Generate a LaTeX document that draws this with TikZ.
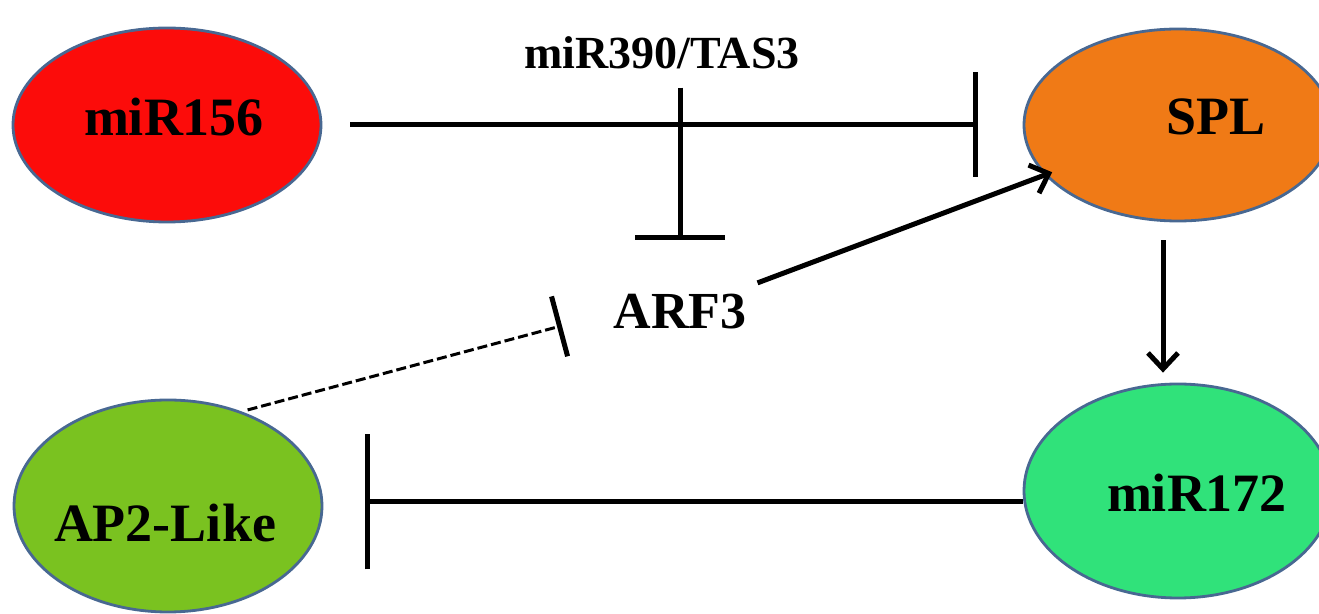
\documentclass[tikz,border=0pt]{standalone}
\usepackage{fontspec}
\setmainfont{Liberation Serif}
\usetikzlibrary{arrows.meta,shapes.geometric}
\definecolor{SixRed}{RGB}{252,12,10}
\definecolor{SplOrange}{RGB}{240,122,22}
\definecolor{LeafGreen}{RGB}{122,194,32}
\definecolor{MintGreen}{RGB}{48,226,122}
\definecolor{RimBlue}{RGB}{72,104,146}

\begin{document}
\begin{tikzpicture}[x=.5pt,y=-.5pt,
  blob/.style={ellipse,draw=RimBlue,line width=1.4pt,fill=#1,minimum width=154pt,minimum height=97pt,inner sep=0pt},
  lbl/.style={font=\fontsize{27}{30}\selectfont\bfseries,inner sep=0pt},
  inhib/.style={line width=2.5pt,-{Bar[width=#1,line width=2.5pt]}},
  act/.style={line width=2.5pt,-{Straight Barb[length=8pt,width=15pt,line width=2.5pt]}}]
\clip (0,0) rectangle (1319,614);
% the four ellipses
\node[blob=SixRed] (miR156) at (167,125) {};
\node[blob=SplOrange,minimum height=96pt] (SPL) at (1178,125) {};
\node[blob=MintGreen,minimum height=107pt] (miR172) at (1178,491) {};
\node[blob=LeafGreen,minimum height=106pt] (AP2) at (168,506) {};
\node[lbl] (miR156txt) at (174,117) {miR156};
\node[lbl] (SPLtxt) at (1216,117) {SPL};
\node[lbl] (miR172txt) at (1197,493) {miR172};
\node[lbl] (AP2txt) at (165,523) {AP2-Like};
\node[lbl,font=\fontsize{26}{30}\selectfont\bfseries] (ARF3) at (680,312) {ARF3};
\node[lbl,font=\fontsize{23}{26}\selectfont\bfseries] (tas3) at (662,53) {miR390/TAS3};
% connectors
\draw[inhib=52.5pt,shorten <=14pt,shorten >=22.5pt] (miR156) -- (SPL);
\draw[inhib=45pt,shorten <=9pt,shorten >=27pt] (tas3.south -| ARF3) -- (ARF3.north);
\draw[act,shorten <=16pt,shorten >=-4pt] (ARF3) -- (SPL);
\draw[act,shorten <=9pt,shorten >=5pt] ([xshift=-7.5pt]SPL.south) -- ([xshift=-7.5pt]miR172.north);
\draw[inhib=67.5pt,shorten >=21pt] ([yshift=-5.5pt]miR172.west) -- ([yshift=-5.5pt]miR172.west -| AP2.east);
\draw[inhib=31pt,line width=1.5pt,dash pattern=on 5pt off 2pt,shorten <=3pt,shorten >=26.5pt] (AP2.52) -- (ARF3.west);
\end{tikzpicture}
\end{document}
